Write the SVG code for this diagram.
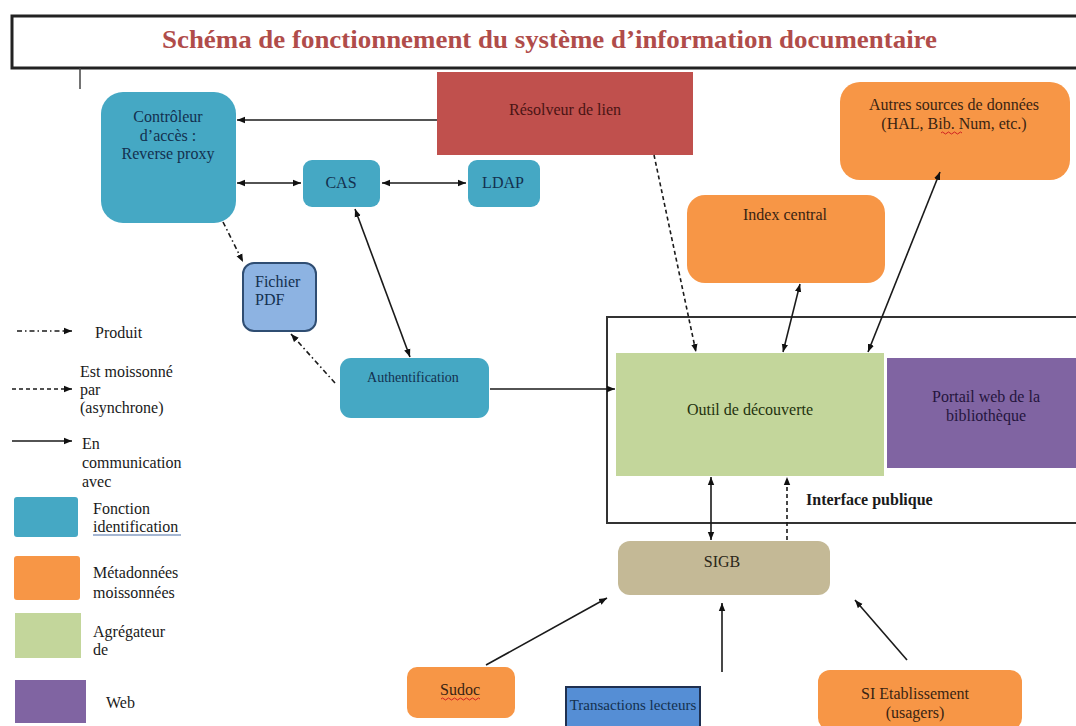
<svg xmlns="http://www.w3.org/2000/svg" width="1076" height="726" viewBox="0 0 1076 726">
  <style>
    text { font-family: "Liberation Serif", "Times New Roman", serif; font-size: 16px; fill: #1a1a1a; }
    .c { text-anchor: middle; }
    .navy { fill: #13304f; }
    .teal { fill: #45a8c4; }
    .orange { fill: #f79646; }
    .green { fill: #c3d69b; }
    .purple { fill: #8064a2; }
    .line { fill: none; stroke: #1a1a1a; stroke-width: 1.6; }
    .dash { stroke-dasharray: 4 3; }
    .dashdot { stroke-dasharray: 5 3 1.5 3; }
  </style>
  <defs>
    <marker id="ah" viewBox="0 0 10 10" refX="10" refY="5" markerWidth="8" markerHeight="8" orient="auto-start-reverse" markerUnits="userSpaceOnUse">
      <path d="M0,1 L10,5 L0,9 z" fill="#111"/>
    </marker>
  </defs>

  <rect width="1076" height="726" fill="#ffffff"/>

  <!-- title banner -->
  <g id="title">
    <rect x="12" y="16" width="1070" height="52" fill="#ffffff" stroke="#222" stroke-width="3"/>
    <text x="549.5" y="48" class="c" style="font-size:26px;font-weight:bold;fill:#b04c4a" textLength="775" lengthAdjust="spacingAndGlyphs">Schéma de fonctionnement du système d’information documentaire</text>
    <line x1="80" y1="68" x2="80" y2="89" stroke="#444" stroke-width="1.5"/>
  </g>

  <!-- public interface frame -->
  <g id="interface-publique">
    <rect x="607" y="317" width="475" height="206" fill="none" stroke="#333" stroke-width="2"/>
    <text x="806" y="505" style="font-weight:bold">Interface publique</text>
  </g>

  <g id="controleur">
    <rect x="101" y="92" width="135" height="131" rx="22" class="teal"/>
    <text x="168" y="122" class="c navy">Contrôleur</text>
    <text x="168" y="141" class="c navy">d’accès :</text>
    <text x="168" y="159" class="c navy">Reverse proxy</text>
  </g>

  <g id="resolveur">
    <rect x="437" y="72" width="256" height="83" fill="#c0504d"/>
    <text x="565" y="115" class="c" style="fill:#4a1414">Résolveur de lien</text>
  </g>

  <g id="cas">
    <rect x="303" y="160" width="77" height="47" rx="9" class="teal"/>
    <text x="341" y="188" class="c navy">CAS</text>
  </g>

  <g id="ldap">
    <rect x="468" y="160" width="72" height="47" rx="9" class="teal"/>
    <text x="503" y="188" class="c navy">LDAP</text>
  </g>

  <g id="autres-sources">
    <rect x="840" y="82" width="230" height="98" rx="20" class="orange"/>
    <text x="954" y="110" class="c" style="fill:#3a2412">Autres sources de données</text>
    <text x="954" y="129" class="c" style="fill:#3a2412">(HAL, Bib. Num, etc.)</text>
    <path d="M941,133 q1.5,-2 3,0 t3,0 t3,0 t3,0 t3,0 t3,0 t3,0" fill="none" stroke="#d02020" stroke-width="1"/>
  </g>

  <g id="index-central">
    <rect x="687" y="195" width="198" height="88" rx="18" class="orange"/>
    <text x="785" y="220" class="c" style="fill:#3a2412">Index central</text>
  </g>

  <g id="fichier-pdf">
    <rect x="243" y="263" width="73" height="68" rx="11" fill="#8db3e2" stroke="#2f4d72" stroke-width="2"/>
    <text x="255" y="287" class="navy">Fichier</text>
    <text x="255" y="305" class="navy">PDF</text>
  </g>

  <g id="authentification">
    <rect x="340" y="358" width="149" height="60" rx="11" class="teal"/>
    <text x="413" y="382" class="c navy" style="font-size:14px">Authentification</text>
  </g>

  <g id="outil-decouverte">
    <rect x="616" y="353" width="268" height="123" class="green"/>
    <text x="750" y="415" class="c" style="fill:#24320e">Outil de découverte</text>
  </g>

  <g id="portail-web">
    <rect x="887" y="358" width="195" height="110" class="purple"/>
    <text x="986" y="402" class="c" style="fill:#25153d">Portail web de la</text>
    <text x="986" y="421" class="c" style="fill:#25153d">bibliothèque</text>
  </g>

  <g id="sigb">
    <rect x="618" y="541" width="212" height="54" rx="12" fill="#c4b996"/>
    <text x="722" y="567" class="c" style="fill:#2a2618">SIGB</text>
  </g>

  <g id="sudoc">
    <rect x="407" y="667" width="108" height="51" rx="10" class="orange"/>
    <text x="460" y="695" class="c" style="fill:#3a2412">Sudoc</text>
    <path d="M441,699 q1.5,-2 3,0 t3,0 t3,0 t3,0 t3,0 t3,0 t3,0 t3,0 t3,0 t3,0 t3,0 t3,0 t3,0" fill="none" stroke="#d02020" stroke-width="1"/>
  </g>

  <g id="transactions-lecteurs">
    <rect x="566" y="687" width="134" height="40" fill="#558ed5" stroke="#1f3050" stroke-width="2"/>
    <text x="633" y="710" class="c navy" style="font-size:15px">Transactions lecteurs</text>
  </g>

  <g id="si-etablissement">
    <rect x="818" y="670" width="204" height="60" rx="12" class="orange"/>
    <text x="915" y="699" class="c" style="fill:#3a2412">SI Etablissement</text>
    <text x="915" y="718" class="c" style="fill:#3a2412">(usagers)</text>
  </g>

  <!-- legend -->
  <g id="legende">
    <line x1="17" y1="331" x2="72" y2="331" class="line dashdot" marker-end="url(#ah)"/>
    <text x="95" y="338">Produit</text>
    <line x1="12" y1="389" x2="72" y2="389" class="line dash" marker-end="url(#ah)"/>
    <text x="80" y="377">Est moissonné</text>
    <text x="80" y="395">par</text>
    <text x="80" y="413">(asynchrone)</text>
    <line x1="12" y1="441" x2="72" y2="441" class="line" marker-end="url(#ah)"/>
    <text x="82" y="449">En</text>
    <text x="82" y="468">communication</text>
    <text x="82" y="487">avec</text>
    <rect x="14" y="497" width="64" height="40" rx="3" class="teal"/>
    <text x="93" y="514">Fonction</text>
    <text x="93" y="532">identification</text>
    <line x1="93" y1="535" x2="181" y2="535" stroke="#4a6fa5" stroke-width="1.2"/>
    <rect x="14" y="556" width="66" height="44" rx="3" class="orange"/>
    <text x="93" y="578">Métadonnées</text>
    <text x="93" y="598">moissonnées</text>
    <rect x="15" y="613" width="66" height="45" class="green"/>
    <text x="93" y="637">Agrégateur</text>
    <text x="93" y="655">de</text>
    <rect x="15" y="680" width="71" height="43" class="purple"/>
    <text x="106" y="708">Web</text>
  </g>

  <!-- connectors -->
  <g id="connecteurs">
    <line x1="437" y1="120" x2="237" y2="120" class="line" marker-end="url(#ah)"/>
    <line x1="237" y1="183" x2="301" y2="183" class="line" marker-start="url(#ah)" marker-end="url(#ah)"/>
    <line x1="382" y1="183" x2="466" y2="183" class="line" marker-start="url(#ah)" marker-end="url(#ah)"/>
    <line x1="355" y1="209" x2="410" y2="357" class="line" marker-start="url(#ah)" marker-end="url(#ah)"/>
    <line x1="223" y1="222" x2="243" y2="262" class="line dashdot" marker-end="url(#ah)"/>
    <line x1="335" y1="383" x2="291" y2="334" class="line dashdot" marker-end="url(#ah)"/>
    <line x1="490" y1="389" x2="615" y2="389" class="line" marker-end="url(#ah)"/>
    <line x1="654" y1="155" x2="696" y2="352" class="line dash" marker-end="url(#ah)"/>
    <line x1="800" y1="284" x2="783" y2="352" class="line" marker-start="url(#ah)" marker-end="url(#ah)"/>
    <line x1="940" y1="172" x2="868" y2="352" class="line" marker-start="url(#ah)" marker-end="url(#ah)"/>
    <line x1="711" y1="477" x2="711" y2="540" class="line" marker-start="url(#ah)" marker-end="url(#ah)"/>
    <line x1="787" y1="540" x2="787" y2="477" class="line dash" marker-end="url(#ah)"/>
    <line x1="486" y1="665" x2="607" y2="598" class="line" marker-end="url(#ah)"/>
    <line x1="722" y1="672" x2="722" y2="603" class="line" marker-end="url(#ah)"/>
    <line x1="907" y1="660" x2="855" y2="600" class="line" marker-end="url(#ah)"/>
  </g>
</svg>
